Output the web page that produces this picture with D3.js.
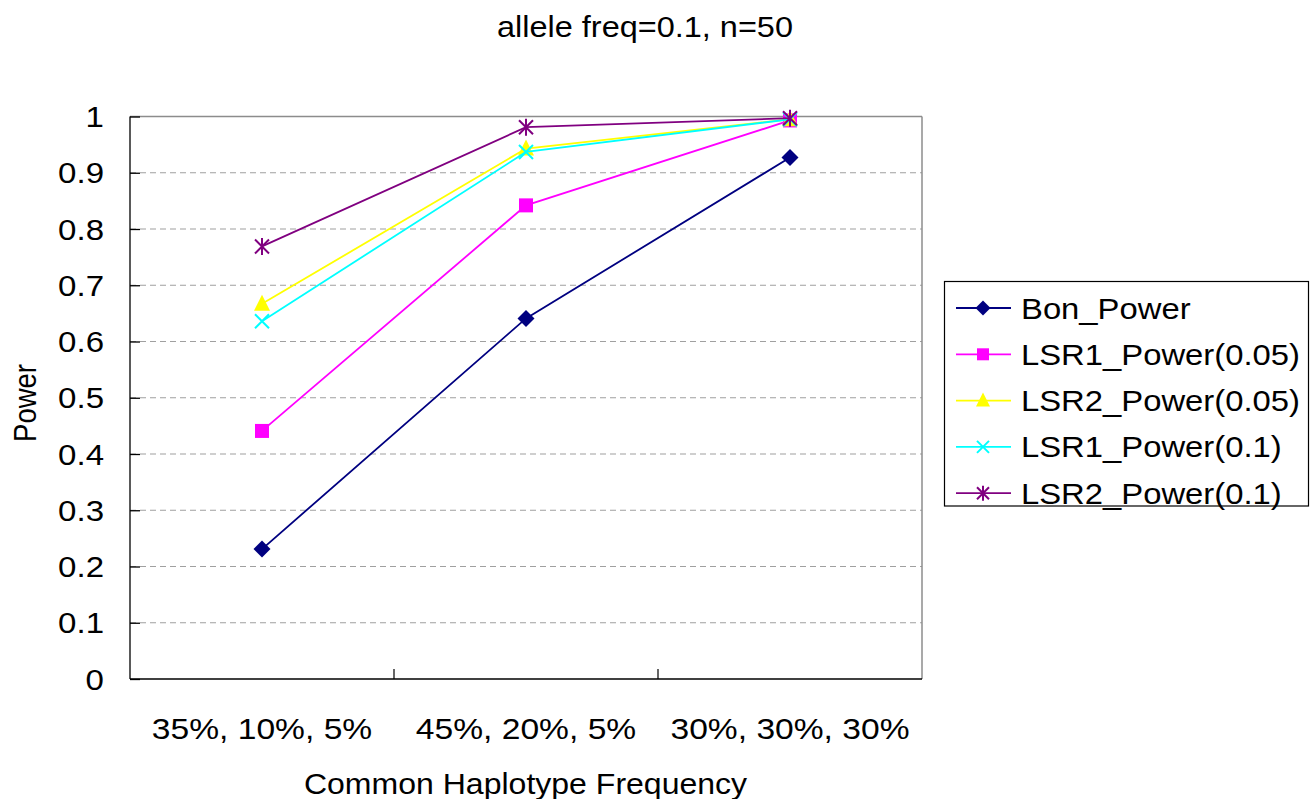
<!DOCTYPE html>
<html><head><meta charset="utf-8">
<script src="https://cdn.jsdelivr.net/npm/d3@7"></script>
<style>body{margin:0;background:#fff}svg{display:block}text{font-family:"Liberation Sans",Arial,Helvetica,sans-serif;fill:#000}</style>
</head><body>
<script>
const title = "allele freq=0.1, n=50";
const xTitle = "Common Haplotype Frequency";
const yTitle = "Power";
const categories = ["35%, 10%, 5%", "45%, 20%, 5%", "30%, 30%, 30%"];
const yTicks = [0, 0.1, 0.2, 0.3, 0.4, 0.5, 0.6, 0.7, 0.8, 0.9, 1];
const seriesNames = ["Bon_Power", "LSR1_Power(0.05)", "LSR2_Power(0.05)", "LSR1_Power(0.1)", "LSR2_Power(0.1)"];
const bonPower = [0.231, 0.641, 0.927];
const lsr1Power005 = [0.441, 0.842, 0.993];
const lsr2Power005 = [0.667, 0.943, 0.995];
const lsr1Power01 = [0.636, 0.937, 0.995];
const lsr2Power01 = [0.769, 0.981, 0.997];
const seriesColors = ["#000080", "#FF00FF", "#FFFF00", "#00FFFF", "#800080"];
const seriesMarkers = ["diamond", "square", "triangle", "x", "star"];

const seriesValues = [bonPower, lsr1Power005, lsr2Power005, lsr1Power01, lsr2Power01];

const W = 1311, H = 799;
const SX = 1.12; // horizontal text stretch seen in the reference
const svg = d3.select("body").append("svg").attr("width", W).attr("height", H);

const x = d3.scaleBand().domain(categories).range([130, 922]);
const y = d3.scaleLinear().domain([0, 1]).range([679, 116.5]);

function txt(g, s, px, py, size, anchor, extra) {
  return g.append("text")
    .attr("transform", `translate(${px},${py}) scale(${SX},1)` + (extra || ""))
    .attr("text-anchor", anchor).attr("font-size", size).text(s);
}

// gridlines
svg.append("g").selectAll("line").data(yTicks.filter(t => t > 0 && t < 1)).join("line")
  .attr("x1", 130).attr("x2", 922).attr("y1", d => y(d)).attr("y2", d => y(d))
  .attr("stroke", "#a0a0a0").attr("stroke-width", 1.2).attr("stroke-dasharray", "6,4");

// plot border top/right
svg.append("line").attr("x1", 130).attr("x2", 922).attr("y1", y(1)).attr("y2", y(1)).attr("stroke", "#8c8c8c").attr("stroke-width", 1.5);
svg.append("line").attr("x1", 922).attr("x2", 922).attr("y1", y(1)).attr("y2", y(0)).attr("stroke", "#8c8c8c").attr("stroke-width", 1.5);

// y axis
const yAxis = d3.axisRight(y).tickValues(yTicks).tickSize(10).tickFormat("");
const gy = svg.append("g").attr("transform", "translate(130,0)").call(yAxis);
gy.selectAll("path,line").attr("stroke", "#000").attr("stroke-width", 1.3);
gy.select(".domain").attr("d", `M0,${y(1)}V${y(0)}`);
yTicks.forEach(t => txt(svg, d3.format("")(t), 104, y(t) + 10.5, 29.5, "end"));

// x axis
const boundaries = [x(categories[1]), x(categories[2])];
svg.append("line").attr("x1", 130).attr("x2", 922).attr("y1", y(0)).attr("y2", y(0)).attr("stroke", "#000").attr("stroke-width", 1.5);
svg.append("g").selectAll("line").data(boundaries).join("line")
  .attr("x1", d => d).attr("x2", d => d).attr("y1", y(0)).attr("y2", y(0) - 10)
  .attr("stroke", "#000").attr("stroke-width", 1.2);
categories.forEach(c => txt(svg, c, x(c) + x.bandwidth() / 2, 739, 30, "middle"));

// titles
txt(svg, title, 645, 37, 29, "middle");
txt(svg, xTitle, 525.5, 794, 28.6, "middle");
svg.append("text").attr("transform", `translate(36,403) scale(1.15,1) rotate(-90)`)
  .attr("text-anchor", "middle").attr("font-size", 27.5).text(yTitle);

// marker drawing
function marker(g, type, cx, cy, color, s) {
  const h = s / 2;
  if (type === "diamond") {
    g.append("path").attr("d", `M${cx},${cy - h - 1.5}L${cx + h + 1.5},${cy}L${cx},${cy + h + 1.5}L${cx - h - 1.5},${cy}Z`).attr("fill", color);
  } else if (type === "square") {
    g.append("rect").attr("x", cx - h).attr("y", cy - h).attr("width", s).attr("height", s).attr("fill", color);
  } else if (type === "triangle") {
    g.append("path").attr("d", `M${cx},${cy - h - 2}L${cx + h + 1},${cy + h}L${cx - h - 1},${cy + h}Z`).attr("fill", color);
  } else if (type === "x") {
    g.append("path").attr("d", `M${cx - h},${cy - h}L${cx + h},${cy + h}M${cx - h},${cy + h}L${cx + h},${cy - h}`)
      .attr("stroke", color).attr("stroke-width", 2).attr("fill", "none");
  } else if (type === "star") {
    g.append("path").attr("d", `M${cx - h},${cy - h}L${cx + h},${cy + h}M${cx - h},${cy + h}L${cx + h},${cy - h}M${cx},${cy - h - 1.5}L${cx},${cy + h + 1.5}`)
      .attr("stroke", color).attr("stroke-width", 2).attr("fill", "none");
  }
}

// series
const line = d3.line().x((d, i) => x(categories[i]) + x.bandwidth() / 2).y(d => y(d));
seriesValues.forEach((vals, si) => {
  const g = svg.append("g");
  g.append("path").attr("d", line(vals)).attr("fill", "none")
    .attr("stroke", seriesColors[si]).attr("stroke-width", 1.8);
  vals.forEach((v, i) => marker(g, seriesMarkers[si], x(categories[i]) + x.bandwidth() / 2, y(v), seriesColors[si], 14));
});

// legend
const lg = svg.append("g");
lg.append("rect").attr("x", 944.5).attr("y", 281.5).attr("width", 364).attr("height", 224.5)
  .attr("fill", "#fff").attr("stroke", "#000").attr("stroke-width", 1.2);
seriesNames.forEach((name, i) => {
  const cy = 308 + i * 46.3;
  lg.append("line").attr("x1", 956).attr("x2", 1011).attr("y1", cy).attr("y2", cy)
    .attr("stroke", seriesColors[i]).attr("stroke-width", 1.8);
  marker(lg, seriesMarkers[i], 983, cy, seriesColors[i], 12);
  txt(lg, name, 1021, cy + 10.5, 29.3, "start");
});
</script>
</body></html>
